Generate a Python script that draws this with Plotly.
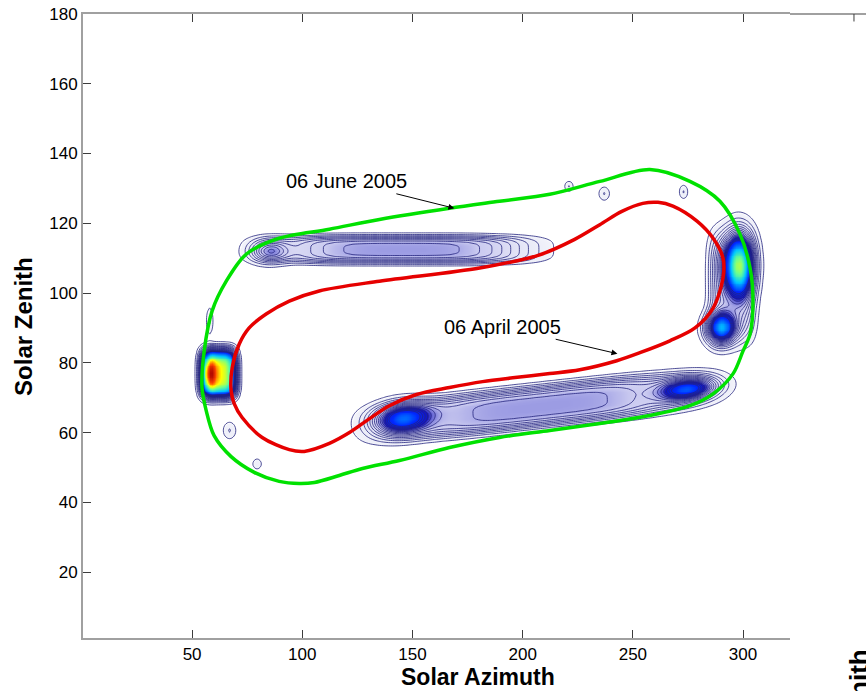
import numpy as np
import plotly.graph_objects as go

# ---- traced curves (Solar Azimuth, Solar Zenith) ----
june_az = [54.5, 55.5, 59.1, 65.5, 74.5, 89.5, 112.3, 135.0, 166.8, 189.5, 212.3, 235.0, 257.7,
           275.9, 289.5, 298.6, 303.2, 304.5, 303.2, 300.0, 295.5, 286.4, 275.9, 257.7, 235.0,
           212.3, 189.5, 166.8, 144.1, 127.3, 116.8, 105.5, 98.6, 89.5, 78.2, 67.7, 60.0, 56.4, 54.5]
june_zen = [72.9, 83.4, 94.9, 103.4, 111.1, 115.7, 118.3, 121.1, 124.3, 126.3, 128.3, 132.0, 135.4,
            132.0, 126.3, 116.9, 107.1, 97.7, 88.3, 83.4, 76.9, 71.1, 67.7, 64.9, 62.6,
            60.6, 58.6, 55.7, 52.0, 49.7, 47.7, 45.7, 45.4, 46.0, 48.6, 53.1, 59.1, 66.3, 72.9]

april_az = [67.7, 68.2, 71.4, 75.9, 83.6, 94.1, 107.7, 135.0, 180.5, 207.0, 223.6, 235.0, 245.0,
            254.5, 261.4, 268.2, 279.1, 286.4, 290.9, 290.9, 286.4, 278.2, 266.8, 253.2, 242.7,
            225.9, 212.3, 195.5, 181.8, 166.8, 151.8, 139.5, 130.5, 121.4, 112.3, 100.9, 94.1,
            81.8, 72.7, 69.1, 67.7]
april_zen = [72.0, 78.6, 85.4, 90.0, 94.0, 97.7, 100.6, 103.4, 107.2, 110.8, 115.4, 119.6, 123.4,
             125.7, 126.0, 124.9, 120.6, 115.7, 110.0, 104.3, 95.7, 90.0, 86.3, 82.9, 80.6,
             78.0, 76.9, 75.7, 74.6, 72.9, 70.9, 67.7, 64.0, 60.0, 56.9, 54.6, 55.1,
             58.6, 64.3, 68.3, 72.0]

# ---- density blobs (centre, half-widths, angle, peak, shape) ----
blob_cx   = [62,  58,  145, 85,  208, 145, 275, 298, 290, 295, 221, 237, 273, 58,  67,  79.5]
blob_cy   = [77,  77,  112.5, 112, 67.5, 64, 72.5, 108, 90, 102, 130.6, 128.5, 129, 92, 60.6, 51]
blob_sx   = [7.5, 3,   55,  8,   64,  12,  12,  6,   6,   10,  2,   2.5, 2,   1.5, 3,   2]
blob_sy   = [6.5, 4,   3.75, 3,  5.6, 4,   3,   8,   4,   15,  1.5, 2,   2,   4,   2.5, 1.5]
blob_ang  = [0,   0,   0,   0,   4,   4,   4,   0,   0,   0,   0,   0,   0,   0,   0,   0]
blob_peak = [2.1, 1.0, 0.6, 0.5, 0.6, 1.0, 1.0, 1.6, 1.2, 0.4, 0.12, 0.12, 0.12, 0.12, 0.12, 0.12]
blob_pow  = [4,   2,   4,   2,   4,   2,   2,   2,   2,   4,   2,   2,   2,   2,   2,   2]

x_ticks = [50, 100, 150, 200, 250, 300]
y_ticks = [20, 40, 60, 80, 100, 120, 140, 160, 180]

# grid built from the blob table
gx = np.arange(0, 321, 1.0)
gy = np.arange(0, 180.5, 0.5)
X, Y = np.meshgrid(gx, gy)
Z = np.zeros_like(X)
for cx, cy, sx, sy, ang, pk, pw in zip(blob_cx, blob_cy, blob_sx, blob_sy, blob_ang, blob_peak, blob_pow):
    a = np.deg2rad(ang)
    dx, dy = X - cx, Y - cy
    u = (dx * np.cos(a) + dy * np.sin(a)) / sx
    v = (-dx * np.sin(a) + dy * np.cos(a)) / sy
    Z += pk * np.exp(-(np.abs(u) ** pw + np.abs(v) ** pw))

fill_scale = [
    [0.0, "rgba(255,255,255,0)"],
    [0.016, "rgba(255,255,255,0)"],
    [0.02, "rgba(215,218,240,0.35)"],
    [0.17, "rgba(150,150,225,0.5)"],
    [0.26, "rgb(20,20,190)"],
    [0.35, "rgb(0,40,255)"],
    [0.5, "rgb(0,200,255)"],
    [0.62, "rgb(110,255,140)"],
    [0.72, "rgb(255,255,0)"],
    [0.85, "rgb(255,70,0)"],
    [1.0, "rgb(170,0,0)"],
]

fig = go.Figure()
fig.add_trace(go.Heatmap(x=gx, y=gy, z=Z, zmin=0, zmax=3, zsmooth="best",
                         colorscale=fill_scale, showscale=False, hoverinfo="skip"))
fig.add_trace(go.Contour(x=gx, y=gy, z=Z, showscale=False, hoverinfo="skip",
                         contours=dict(coloring="none", start=0.05, end=1.0, size=0.065),
                         line=dict(color="rgb(35,35,125)", width=0.8)))
fig.add_trace(go.Scatter(x=june_az, y=june_zen, mode="lines",
                         line=dict(color="rgb(0,225,0)", width=3.5, shape="spline", smoothing=0.9),
                         hoverinfo="skip", showlegend=False))
fig.add_trace(go.Scatter(x=april_az, y=april_zen, mode="lines",
                         line=dict(color="rgb(230,0,0)", width=3.5, shape="spline", smoothing=0.9),
                         hoverinfo="skip", showlegend=False))

font_main = "Liberation Sans, Arial, Helvetica, sans-serif"
axis_common = dict(showgrid=False, zeroline=False, showline=True, linecolor="rgb(160,160,160)",
                   linewidth=2, ticks="inside", ticklen=8, tickcolor="rgb(60,60,60)", tickwidth=1,
                   automargin=False,
                   tickfont=dict(family=font_main, size=17, color="black"))
fig.update_xaxes(range=[0.5, 321.3], tickvals=x_ticks, ticktext=[str(t) for t in x_ticks],
                 mirror="ticks", **axis_common)
fig.update_yaxes(range=[1.1, 180], tickvals=y_ticks, ticktext=[str(t) for t in y_ticks],
                 mirror=False, **axis_common)

annotations = [
    dict(x=169, y=124.3, xref="x", yref="y", text="06 June 2005", showarrow=True,
         axref="pixel", ayref="pixel", ax=-108, ay=-27, arrowhead=2, arrowsize=1.2,
         arrowwidth=1, arrowcolor="black", font=dict(family=font_main, size=20, color="black")),
    dict(x=243, y=82.6, xref="x", yref="y", text="06 April 2005", showarrow=True,
         axref="pixel", ayref="pixel", ax=-115, ay=-27, arrowhead=2, arrowsize=1.2,
         arrowwidth=1, arrowcolor="black", font=dict(family=font_main, size=20, color="black")),
    dict(x=0.558, y=-0.062, xref="paper", yref="paper", text="<b>Solar Azimuth</b>",
         showarrow=False, xanchor="center", yanchor="middle", borderpad=0,
         font=dict(family=font_main, size=23, color="black")),
    dict(x=-0.085, y=0.50, xref="paper", yref="paper", text="<b>Solar Zenith</b>",
         showarrow=False, textangle=-90, xanchor="center", yanchor="middle",
         font=dict(family=font_main, size=24, color="black")),
    dict(x=1.097, y=-0.016, xref="paper", yref="paper", text="<b>Solar Zenith</b>",
         showarrow=False, textangle=-90, xanchor="center", yanchor="top",
         font=dict(family=font_main, size=26, color="black")),
]

shapes = [
    dict(type="line", xref="paper", yref="paper", x0=1.0, x1=1.12, y0=1.0, y1=1.0,
         line=dict(color="rgb(160,160,160)", width=2)),
    dict(type="line", xref="paper", yref="paper", x0=1.0905, x1=1.0905, y0=1.0, y1=0.988,
         line=dict(color="rgb(60,60,60)", width=1)),
]

fig.update_layout(width=866, height=691, margin=dict(l=83, r=76, t=14, b=53),
                  plot_bgcolor="white", paper_bgcolor="white", showlegend=False,
                  annotations=annotations, shapes=shapes)

fig.write_html("out.html")
